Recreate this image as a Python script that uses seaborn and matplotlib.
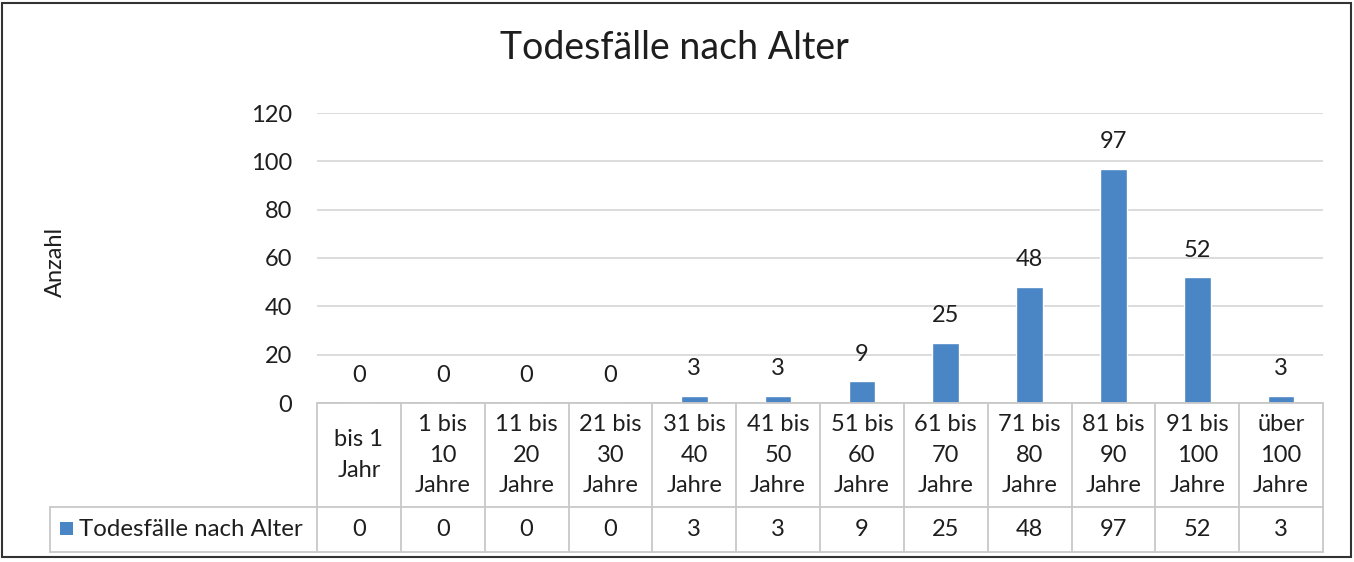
import numpy as np
import pandas as pd
import matplotlib
matplotlib.use('Agg')
import matplotlib.pyplot as plt
import seaborn as sns

# ============================================================
# Daten
# ============================================================
categories = ['bis 1\nJahr', '1 bis\n10\nJahre', '11 bis\n20\nJahre', '21 bis\n30\nJahre',
              '31 bis\n40\nJahre', '41 bis\n50\nJahre', '51 bis\n60\nJahre', '61 bis\n70\nJahre',
              '71 bis\n80\nJahre', '81 bis\n90\nJahre', '91 bis\n100\nJahre', 'über\n100\nJahre']
counts = [0, 0, 0, 0, 3, 3, 9, 25, 48, 97, 52, 3]
series_name = 'Todesfälle nach Alter'
title = 'Todesfälle nach Alter'
ylabel = 'Anzahl'
yticks = [0, 20, 40, 60, 80, 100, 120]

df = pd.DataFrame({'kat': categories, 'anzahl': counts})

# ============================================================
# Stil
# ============================================================
sns.set_style('white')
plt.rcParams['font.family'] = ['Lato', 'DejaVu Sans']
BAR = '#4a86c5'
TXT = '#1e1e1e'
GRID = '#d9d9d9'
LINE = '#c8c8c8'
FS = 17

W, H = 1354, 562
fig = plt.figure(figsize=(W / 100, H / 100), dpi=100)
fig.patch.set_facecolor('white')

# Plotbereich in Pixeln
L, R, T, B = 317, 1323, 113, 403
ax = fig.add_axes([L / W, (H - B) / H, (R - L) / W, (B - T) / H])

sns.barplot(data=df, x='kat', y='anzahl', color=BAR, width=0.32, saturation=1, ax=ax)
ax.set_xlim(-0.5, len(categories) - 0.5)
ax.set_ylim(0, 120)
ax.set_yticks(yticks)
ax.set_yticklabels([str(t) for t in yticks], fontsize=FS, color=TXT)
ax.tick_params(axis='y', length=0, pad=18)
ax.set_xticks([])
ax.set_xlabel('')
ax.set_ylabel('')
for s in ax.spines.values():
    s.set_visible(False)
ax.yaxis.grid(True, color=GRID, linewidth=1.3)
ax.set_axisbelow(True)

ax.bar_label(ax.containers[0], labels=[str(v) for v in counts], padding=12,
             fontsize=FS, color=TXT)

# ============================================================
# Datentabelle unter dem Diagramm
# ============================================================
trans = ax.get_xaxis_transform()
n = len(categories)
y_head = (B - 507) / (B - T)
y_bot = (B - 552) / (B - T)
x_leg = -0.5 + (50 - L) / ((R - L) / n)

ax.plot([-0.5, n - 0.5], [0, 0], color=LINE, lw=1.3, transform=trans, clip_on=False)
ax.plot([x_leg, n - 0.5], [y_head, y_head], color=LINE, lw=1.3, transform=trans, clip_on=False)
ax.plot([x_leg, n - 0.5], [y_bot, y_bot], color=LINE, lw=1.3, transform=trans, clip_on=False)
for k in range(n + 1):
    ax.plot([k - 0.5, k - 0.5], [0, y_bot], color=LINE, lw=1.3, transform=trans, clip_on=False)
ax.plot([x_leg, x_leg], [y_head, y_bot], color=LINE, lw=1.3, transform=trans, clip_on=False)

y_head_mid = y_head / 2
y_row_mid = (y_head + y_bot) / 2
for i, (c, v) in enumerate(zip(categories, counts)):
    ax.text(i, y_head_mid, c, transform=trans, ha='center', va='center',
            fontsize=FS, color=TXT, linespacing=1.55)
    ax.text(i, y_row_mid, str(v), transform=trans, ha='center', va='center',
            fontsize=FS, color=TXT)

# Legende in der Tabelle
fig.patches.append(plt.Rectangle((60 / W, (H - 535) / H), 13 / W, 13 / H,
                                 transform=fig.transFigure, facecolor=BAR, edgecolor='none'))
fig.text(79 / W, (H - 530) / H, series_name, ha='left', va='center', fontsize=17.3, color=TXT)

# Titel und Achsenbeschriftung
fig.text(674 / W, (H - 48) / H, title, ha='center', va='center', fontsize=27, color=TXT)
fig.text(55 / W, (H - 262) / H, ylabel, ha='center', va='center', rotation=90,
         fontsize=FS, color=TXT)

# Rahmen
fig.patches.append(plt.Rectangle((2 / W, (H - 557) / H), 1349 / W, 554 / H,
                                 transform=fig.transFigure, facecolor='none',
                                 edgecolor='#333333', linewidth=1.5))

plt.savefig('out.png', dpi=100)
plt.close()
